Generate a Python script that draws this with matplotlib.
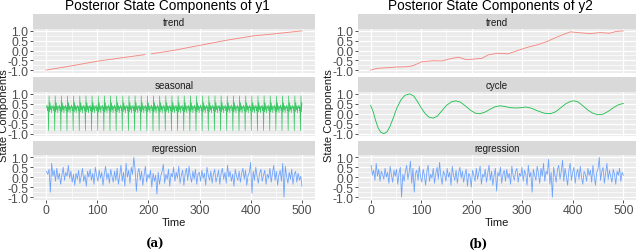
import numpy as np
import matplotlib
matplotlib.use('Agg')
import matplotlib.pyplot as plt
from matplotlib.ticker import MultipleLocator

plt.rcParams['font.family'] = ['Liberation Sans', 'DejaVu Sans']

# ---------------- data ----------------
trend1_t = [0, 50, 99, 151, 193, 200, 206, 248, 300, 352, 404, 450, 500]
trend1_v = [-1.0, -0.78, -0.55, -0.36, -0.21, np.nan, -0.17, 0.0, 0.26, 0.52, 0.74, 0.86, 1.0]

season_pattern = [0.30, 0.45, 0.15, 0.35, -0.85, 0.90, 0.10, 0.55, 0.20, 0.40, 0.05, 0.35]

reg1 = [0.30, 0.15, 0.40, -0.75, 0.70, 0.05, 0.35, -0.20, 0.45, -0.10,
        0.20, -0.35, 0.10, 0.50, -0.15, 0.25, 0.05, 0.60, -0.05, 0.30,
        -0.25, 0.15, -0.40, 0.20, -0.10, 0.35, -0.30, 0.05, 0.45, -0.20,
        0.10, -0.45, 0.30, 0.00, 0.40, -0.15, 0.20, -0.35, 0.50, 0.10,
        -0.20, 0.35, -0.05, 0.25, -0.40, 0.15, 0.55, -0.10, 0.20, -0.30,
        0.40, 0.05, -0.25, 0.30, -0.15, 0.45, -0.35, 0.10, 0.60, -0.20,
        0.25, -0.45, 0.70, 0.00, 0.35, -0.30, 0.50, 0.15, 1.00, 0.40,
        -0.70, 0.20, 0.45, -0.15, 0.30, -0.40, 0.10, 0.55, -0.25, 0.15,
        -0.05, 0.35, -0.50, 0.20, -0.20, 0.10, -0.85, 0.25, -0.35, 0.05,
        0.30, 0.65, -0.30, 0.15, -0.10, 0.40, -0.45, 0.20, 0.00, 0.50,
        -0.20, 0.25, -0.05, 0.55, -0.30, 0.10, 0.35, -0.40, 0.20, 0.45,
        -0.15, 0.55, 0.05, -0.25, 0.30, -0.10, 0.40, -0.35, 0.15, 0.25,
        -0.20, 0.35, -0.05, 0.20, -0.40, 0.50, 0.10, -0.15, 0.30, -0.30,
        0.15, 0.40, -0.25, 0.05, 0.35, -0.35, 0.20, 0.45, -0.10, 0.25,
        -0.30, 0.60, 0.00, 0.30, -0.20, 0.15, -0.45, 0.40, 0.05, -0.15,
        0.30, -0.25, 0.20, 0.45, -0.10, 0.35, -0.40, 0.10, 0.25, 0.75,
        -0.80, 0.30, -0.15, 0.50, 0.05, -0.30, 0.20, 0.40, -0.20, 0.10,
        0.35, -0.35, 0.15, -0.05, 0.45, -0.25, 0.20, 0.60, -0.15, 0.30,
        -0.40, 0.10, 0.35, -0.20, 0.70, -1.00, 0.55, 0.05, -0.30, 0.25,
        -0.10, 0.40, -0.35, 0.15, 0.30, -0.25, 0.20, -0.15, 0.05, -0.45]

trend2_t = [0, 12, 31, 51, 70, 83, 102, 122, 141, 161, 174, 190, 207, 220, 233,
            252, 272, 291, 311, 330, 350, 369, 395, 415, 434, 454, 473, 486, 500]
trend2_v = [-1.0, -0.91, -0.88, -0.84, -0.83, -0.78, -0.57, -0.52, -0.53, -0.40,
            -0.34, -0.47, -0.43, -0.40, -0.22, -0.14, -0.17, 0.0, 0.17, 0.29,
            0.47, 0.69, 0.95, 0.90, 0.86, 0.91, 0.88, 0.97, 1.0]

cycle_t = [0, 5, 10, 15, 20, 26, 32, 38, 45, 52, 60, 68, 77, 85, 93, 100, 108, 116,
           124, 132, 140, 150, 160, 169, 178, 188, 198, 207, 216, 226, 236, 246,
           255, 265, 275, 285, 296, 307, 318, 330, 343, 356, 366, 376, 386, 395,
           402, 410, 420, 430, 440, 450, 460, 470, 480, 490, 500]
cycle_v = [0.42, 0.10, -0.35, -0.72, -0.93, -1.0, -0.92, -0.65, -0.20, 0.30, 0.70,
           0.93, 1.0, 0.90, 0.60, 0.30, 0.00, -0.18, -0.22, -0.12, 0.12, 0.42, 0.60,
           0.65, 0.58, 0.38, 0.17, 0.03, 0.00, 0.08, 0.22, 0.35, 0.40, 0.37, 0.31,
           0.29, 0.30, 0.34, 0.28, 0.15, 0.03, 0.00, 0.10, 0.30, 0.50, 0.62, 0.65,
           0.60, 0.40, 0.18, 0.02, -0.05, -0.02, 0.12, 0.30, 0.45, 0.52]

reg2 = [0.60, 0.10, 0.35, -0.15, 0.70, 0.05, 0.40, -0.20, 0.30, 0.15,
        -0.10, 0.45, 0.00, 0.25, -0.30, 0.55, 0.10, -0.25, 0.35, 0.05,
        0.40, -0.35, 0.20, 0.50, -1.00, 0.15, -0.20, 0.30, 0.60, -0.10,
        0.25, 0.80, -0.30, 0.45, -0.75, 0.20, 0.35, -0.15, 0.55, 0.00,
        -0.25, 0.40, 0.10, -0.40, 0.30, 0.60, -0.20, 0.15, -0.05, 0.45,
        -0.30, 0.20, 0.50, -0.10, 0.75, 0.05, -0.35, 0.30, 0.15, -0.20,
        0.45, 0.00, 0.25, -0.40, 0.55, 0.10, -0.15, 0.35, -0.30, 0.20,
        0.50, -0.05, 0.30, -0.25, 0.15, 0.40, -0.45, 0.20, 0.05, -0.50,
        0.35, 0.10, -0.20, 0.45, -0.10, 0.25, 0.55, -0.35, 0.15, 0.00,
        0.40, -0.25, 0.20, 0.60, -0.15, 0.30, -0.40, 0.10, 0.45, -0.70,
        0.25, 0.05, 0.50, -0.30, 0.15, 0.35, -0.20, 0.40, -0.05, 0.20,
        -0.35, 0.55, 0.10, -0.15, 0.30, 0.45, -0.25, 0.20, 0.05, 0.50,
        -0.20, 0.35, 0.15, -0.40, 0.60, 0.00, 0.25, -0.75, 0.40, 0.10,
        -0.15, 0.55, 0.20, -0.30, 0.45, 0.05, 0.70, -0.20, 0.30, 0.15,
        0.90, -0.35, 0.25, -1.00, 0.50, 0.10, -0.25, 0.40, 0.60, -0.10,
        0.30, 0.85, -0.20, 0.45, 0.05, -0.40, 0.35, 0.70, -0.15, 0.25,
        0.50, -0.30, 0.20, 0.40, -0.10, 0.55, 0.00, -0.35, 0.30, 0.15,
        -0.20, 0.45, 0.10, 0.35, -0.25, 0.60, 0.05, -0.40, 0.25, 0.40,
        1.00, -0.15, 0.30, 0.50, -0.30, 0.20, 0.70, -0.10, 0.35, 0.05,
        -0.25, 0.40, 0.15, -0.35, 0.30, 0.10, 0.45, -0.20, 0.25, 0.10]

n_time = 500
strip_names_1 = ['trend', 'seasonal', 'regression']
strip_names_2 = ['trend', 'cycle', 'regression']
titles = ['Posterior State Components of y1', 'Posterior State Components of y2']
yticks = [-1.0, -0.5, 0.0, 0.5, 1.0]
ytick_labels = ['-1.0', '-0.5', '0.0', '0.5', '1.0']
xticks = [0, 100, 200, 300, 400, 500]

# ---------------- drawing ----------------
W, H = 640, 251
fig = plt.figure(figsize=(6.4, 2.51), dpi=100)

def ax_px(x0, y0, x1, y1, **kw):
    return fig.add_axes([x0 / W, 1 - y1 / H, (x1 - x0) / W, (y1 - y0) / H], **kw)

RED, GREEN, BLUE = '#F8766D', '#00BA38', '#619CFF'
cols = [(33.2, 314.8), (358, 636)]
rows = [((15, 29.5), (29.5, 73.5)), ((78, 92.5), (92.5, 137)), ((141.5, 156), (156, 200.5))]

t_season = np.arange(1, n_time + 1)
season_vals = np.tile(season_pattern, n_time // len(season_pattern) + 1)[:n_time]
t_reg1 = np.linspace(1, n_time, len(reg1))
t_reg2 = np.linspace(1, n_time, len(reg2))

series = [
    [(trend1_t, trend1_v, RED), (t_season, season_vals, GREEN), (t_reg1, reg1, BLUE)],
    [(trend2_t, trend2_v, RED), (cycle_t, cycle_v, GREEN), (t_reg2, reg2, BLUE)],
]
strips = [strip_names_1, strip_names_2]

for c, (x0, x1) in enumerate(cols):
    for r, ((sy0, sy1), (py0, py1)) in enumerate(rows):
        sax = ax_px(x0, sy0, x1, sy1)
        sax.set_facecolor('#D9D9D9')
        sax.set_xticks([]); sax.set_yticks([])
        for s in sax.spines.values():
            s.set_visible(False)
        sax.text(0.5, 0.45, strips[c][r], ha='center', va='center', fontsize=7,
                 color='#1A1A1A', transform=sax.transAxes)

        ax = ax_px(x0, py0, x1, py1)
        ax.set_facecolor('#EBEBEB')
        for s in ax.spines.values():
            s.set_visible(False)
        ax.set_xlim(-25, 525)
        ax.set_ylim(-1.12, 1.12)
        ax.set_xticks(xticks)
        ax.xaxis.set_minor_locator(MultipleLocator(50))
        ax.set_yticks(yticks)
        ax.set_yticklabels(ytick_labels)
        ax.yaxis.set_minor_locator(MultipleLocator(0.25))
        ax.grid(which='major', color='white', lw=0.9)
        ax.grid(which='minor', color='white', lw=0.45)
        ax.set_axisbelow(True)
        ax.tick_params(which='minor', length=0)
        ax.tick_params(which='major', length=2.5, width=0.6, color='#333333',
                       labelcolor='#4D4D4D', labelsize=8.8, pad=1)
        if r < 2:
            ax.tick_params(axis='x', which='major', length=0, labelbottom=False)
        t, v, col = series[c][r]
        if r == 1 and c == 0:
            ax.plot(t, v, color=col, lw=0.5, alpha=0.75)
        else:
            ax.plot(t, v, color=col, lw=0.6, alpha=0.9)
        if r == 2:
            ax.set_xlabel('Time', fontsize=8, color='#1A1A1A', labelpad=0.5)
    cx = (x0 + x1) / 2
    fig.text((cx - 7) / W, 1 - 6 / H, titles[c], ha='center', va='center', fontsize=9.8)
    fig.text((x0 - 29.5) / W, 1 - 116 / H, 'State Components', rotation=90,
             ha='center', va='center', fontsize=8, color='#1A1A1A')
    fig.text((cx - 19) / W, 1 - 244 / H, '(a)' if c == 0 else '(b)', ha='center',
             va='center', fontsize=8.5, fontweight='bold', family='DejaVu Serif')

fig.savefig('out.png', dpi=100)
